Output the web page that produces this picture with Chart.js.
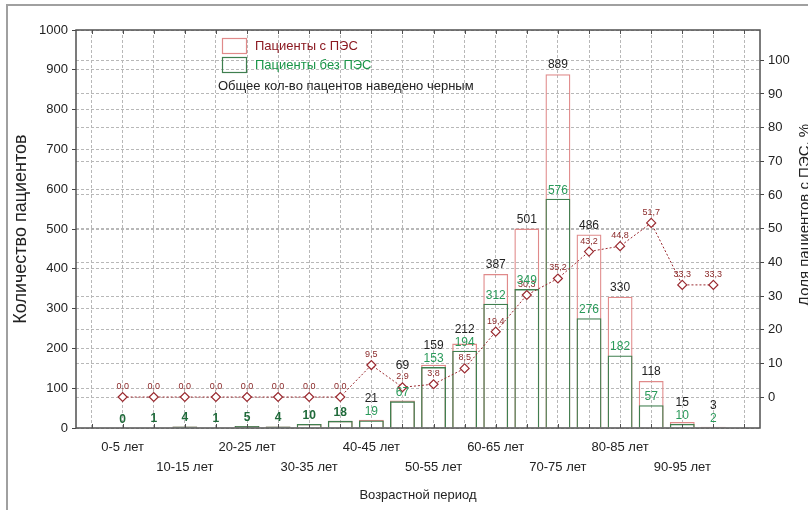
<!DOCTYPE html>
<html>
<head>
<meta charset="utf-8">
<script src="https://cdn.jsdelivr.net/npm/chart.js@4.4.1/dist/chart.umd.min.js"></script>
<style>
  html, body { margin: 0; padding: 0; background: #fff; }
  #wrap { width: 808px; height: 510px; }
</style>
</head>
<body>
<div id="wrap"><canvas id="ageChart" width="808" height="510"></canvas></div>
<script>
const ageGroups = ['0-5 лет', '5-10 лет', '10-15 лет', '15-20 лет', '20-25 лет', '25-30 лет', '30-35 лет',
    '35-40 лет', '40-45 лет', '45-50 лет', '50-55 лет', '55-60 лет', '60-65 лет', '65-70 лет',
    '70-75 лет', '75-80 лет', '80-85 лет', '85-90 лет', '90-95 лет', '95-100 лет'];
const totalPatients = [0, 1, 4, 1, 5, 4, 10, 18, 21, 69, 159, 212, 387, 501, 889, 486, 330, 118, 15, 3];
const withoutPes = [0, 1, 4, 1, 5, 4, 10, 18, 19, 67, 153, 194, 312, 349, 576, 276, 182, 57, 10, 2];
const pesShare = [0, 0, 0, 0, 0, 0, 0, 0, 9.5, 2.9, 3.8, 8.5, 19.4, 30.3, 35.2, 43.2, 44.8, 51.7, 33.3, 33.3];
const shareTicks = [0, 10, 20, 30, 40, 50, 60, 70, 80, 90, 100];

const FONT = "'Liberation Sans', Arial, sans-serif";
const GRID = '#b8b8b8';
const DASH = [3, 2];
const RED_LINE = '#9a2a30';
const GREEN_BAR = '#3f7f4f';
const RED_BAR = '#e08a8a';

// one empty slot on each side of the data, like the original plot
const pad = arr => [null, ...arr, null];
const slotLabels = ['', ...ageGroups, ''];

function slotTick(i) {
    const k = i - 1;
    if (k < 0 || k >= ageGroups.length || k % 2) return '';
    return k % 4 === 0 ? [ageGroups[k], ''] : ['', ageGroups[k]];
}

const fmtShare = v => v.toFixed(1).replace('.', ',');

const decor = {
    id: 'decor',
    beforeDraw(chart) {
        const ctx = chart.ctx;
        ctx.save();
        ctx.strokeStyle = '#a0a0a0';
        ctx.lineWidth = 2;
        ctx.beginPath();
        ctx.moveTo(7, 510);
        ctx.lineTo(7, 5);
        ctx.lineTo(808, 5);
        ctx.stroke();
        ctx.restore();
    },
    afterDatasetsDraw(chart) {
        const { ctx, chartArea: a, scales } = chart;
        ctx.save();
        // plot frame + inner ticks on top and bottom
        ctx.strokeStyle = '#505050';
        ctx.lineWidth = 1.5;
        ctx.strokeRect(a.left, a.top, a.right - a.left, a.bottom - a.top);
        ctx.lineWidth = 1;
        ctx.beginPath();
        scales.x.ticks.forEach((t, i) => {
            const px = Math.round(scales.x.getPixelForTick(i)) + 0.5;
            ctx.moveTo(px, a.top);
            ctx.lineTo(px, a.top + 4);
            ctx.moveTo(px, a.bottom);
            ctx.lineTo(px, a.bottom - 4);
        });
        ctx.stroke();

        // value labels
        const lineMeta = chart.getDatasetMeta(0);
        const greenMeta = chart.getDatasetMeta(1);
        const redMeta = chart.getDatasetMeta(2);
        ctx.textAlign = 'center';
        ctx.textBaseline = 'middle';
        ageGroups.forEach((g, k) => {
            const i = k + 1;
            const gb = greenMeta.data[i], rb = redMeta.data[i], pt = lineMeta.data[i];
            const same = totalPatients[k] === withoutPes[k];
            const greenY = gb.y - 8.5;
            const pctY = pt.y - 10.5;

            ctx.font = '9px ' + FONT;
            ctx.fillStyle = '#8b2a2a';
            ctx.fillText(fmtShare(pesShare[k]), pt.x, pctY);

            ctx.font = (same ? 'bold ' : '') + '12px ' + FONT;
            ctx.fillStyle = same ? '#1f6a3a' : '#2a9a5a';
            ctx.fillText(String(withoutPes[k]), gb.x, greenY);

            if (!same) {
                let by = Math.min(rb.y - 9, greenY - 13);
                if (Math.abs(by - pctY) < 11) by = pctY - 11;
                ctx.font = '12px ' + FONT;
                ctx.fillStyle = '#222';
                ctx.fillText(String(totalPatients[k]), rb.x, by);
            }
        });

        // legend
        ctx.lineWidth = 1.2;
        ctx.strokeStyle = RED_BAR;
        ctx.strokeRect(222.5, 38.5, 24, 15);
        ctx.strokeStyle = GREEN_BAR;
        ctx.strokeRect(222.5, 57.5, 24, 15);
        ctx.textAlign = 'left';
        ctx.font = '13px ' + FONT;
        ctx.fillStyle = '#8b1a22';
        ctx.fillText('Пациенты с ПЭС', 255, 46.5);
        ctx.fillStyle = '#1a9447';
        ctx.fillText('Пациенты без ПЭС', 255, 65.5);
        ctx.fillStyle = '#222';
        ctx.fillText('Общее кол-во пацентов наведено черным', 218, 86.5);

        // right axis title, cut by the edge as in the source
        ctx.translate(809, 215);
        ctx.rotate(-Math.PI / 2);
        ctx.textAlign = 'center';
        ctx.textBaseline = 'alphabetic';
        ctx.font = '15px ' + FONT;
        ctx.fillText('Доля пациентов с ПЭС, %', 0, 0);
        ctx.restore();
    }
};

Chart.defaults.font.family = FONT;
Chart.defaults.color = '#222';

new Chart(document.getElementById('ageChart'), {
    type: 'bar',
    data: {
        labels: slotLabels,
        datasets: [
            {
                type: 'line',
                label: 'Доля пациентов с ПЭС',
                data: pad(pesShare),
                yAxisID: 'y1',
                order: 0,
                borderColor: RED_LINE,
                borderWidth: 1,
                borderDash: [2, 2],
                tension: 0,
                pointStyle: 'rectRot',
                pointRadius: 4.5,
                pointBackgroundColor: '#fff',
                pointBorderColor: RED_LINE,
                pointBorderWidth: 1.2
            },
            {
                label: 'Пациенты без ПЭС',
                data: pad(withoutPes),
                yAxisID: 'y',
                order: 1,
                grouped: false,
                barPercentage: 0.8,
                categoryPercentage: 1,
                borderWidth: 1.3,
                borderColor: GREEN_BAR,
                backgroundColor: c => (c.raw !== null && c.raw <= 6 ? GREEN_BAR : 'rgba(0,0,0,0)')
            },
            {
                label: 'Пациенты с ПЭС',
                data: pad(totalPatients),
                yAxisID: 'y',
                order: 2,
                grouped: false,
                barPercentage: 0.8,
                categoryPercentage: 1,
                borderWidth: 1.3,
                borderColor: RED_BAR,
                backgroundColor: 'rgba(0,0,0,0)'
            }
        ]
    },
    options: {
        responsive: false,
        animation: false,
        layout: { padding: { top: 30, left: 0, right: 0, bottom: 0 } },
        plugins: { legend: { display: false }, tooltip: { enabled: false } },
        scales: {
            x: {
                offset: true,
                grid: { offset: false, color: GRID, drawTicks: false },
                border: { display: false, dash: DASH },
                ticks: {
                    autoSkip: false, maxRotation: 0, minRotation: 0, padding: 9,
                    font: { size: 13, lineHeight: 20 / 13 }, color: '#222',
                    callback: (v, i) => slotTick(i)
                },
                title: { display: true, text: 'Возрастной период', font: { size: 13 }, color: '#222', padding: { top: 0, bottom: 7 } },
                afterFit: s => { s.height = 82; }
            },
            y: {
                position: 'left',
                min: 0, max: 1000,
                ticks: { stepSize: 100, padding: 4, font: { size: 13 }, color: '#222', callback: v => String(v) },
                grid: { color: GRID, tickColor: '#444', tickLength: 4, tickBorderDash: [] },
                border: { display: false, dash: DASH },
                title: { display: true, text: 'Количество пациентов', font: { size: 18 }, color: '#222', padding: { top: 10, bottom: 0 } },
                afterFit: s => { s.width = 76; }
            },
            y1: {
                position: 'right',
                min: -9.2, max: 109,
                afterBuildTicks: s => { s.ticks = shareTicks.map(v => ({ value: v })); },
                ticks: { padding: 4, font: { size: 13 }, color: '#222' },
                grid: { color: GRID, tickColor: '#444', tickLength: 4, tickBorderDash: [] },
                border: { display: false, dash: DASH },
                afterFit: s => { s.width = 48; }
            }
        }
    },
    plugins: [decor]
});
</script>
</body>
</html>
